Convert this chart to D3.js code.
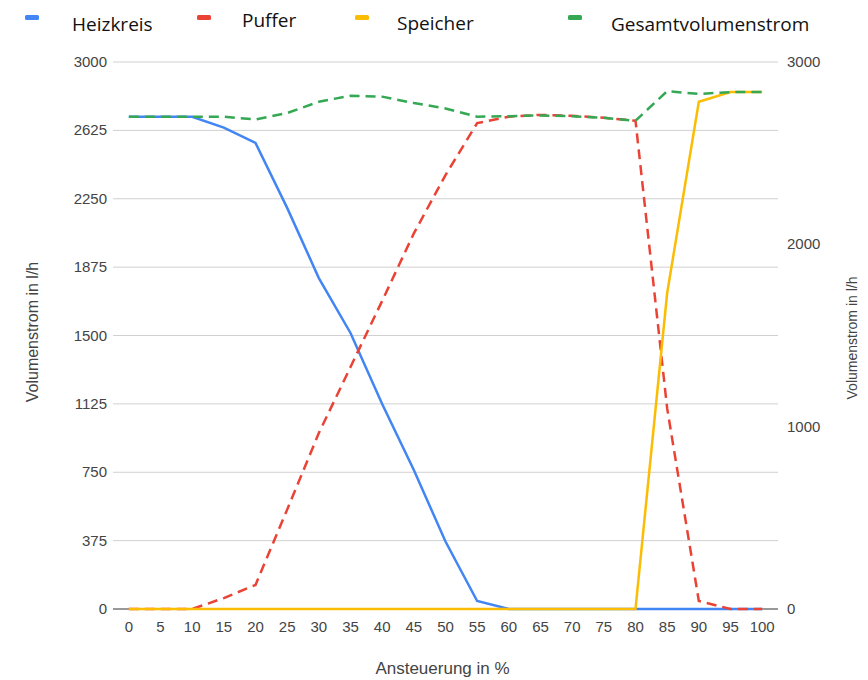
<!DOCTYPE html>
<html>
<head>
<meta charset="utf-8">
<script src="https://cdn.jsdelivr.net/npm/d3@7"></script>
<style>
  body { margin: 0; background: #fff; }
</style>
</head>
<body>
<div id="chart"></div>
<script>
const categories = ['0', '5', '10', '15', '20', '25', '30', '35', '40', '45', '50',
                    '55', '60', '65', '70', '75', '80', '85', '90', '95', '100'];
const heizkreis = [2700, 2700, 2700, 2640, 2556, 2200, 1815, 1514, 1124, 762, 370,
                   44, 0, 0, 0, 0, 0, 0, 0, 0, 0];
const puffer = [0, 0, 0, 60, 132, 545, 965, 1327, 1690, 2060, 2380,
                2665, 2700, 2710, 2705, 2694, 2678, 1100, 44, 0, 0];
const speicher = [0, 0, 0, 0, 0, 0, 0, 0, 0, 0, 0,
                  0, 0, 0, 0, 0, 0, 1733, 2782, 2835, 2835];
const gesamt = [2700, 2700, 2700, 2700, 2685, 2720, 2782, 2815, 2810, 2775, 2745,
                2700, 2703, 2707, 2703, 2694, 2678, 2840, 2825, 2835, 2835];
const leftTicks = [0, 375, 750, 1125, 1500, 1875, 2250, 2625, 3000];
const rightTicks = [0, 1000, 2000, 3000];
const seriesNames = ['Heizkreis', 'Puffer', 'Speicher', 'Gesamtvolumenstrom'];

let width = 868,
    height = 680,
    plotLeft = 113,
    plotRight = 778,
    plotTop = 62,
    plotBottom = 609;

const colors = ['#4285F4', '#EA4335', '#FBBC04', '#34A853'];
const dashes = [null, '10,6', null, '10,6'];
const allSeries = [heizkreis, puffer, speicher, gesamt];

const svg = d3.select('#chart')
    .append('svg')
        .attr('width', width)
        .attr('height', height)
        .attr('font-family', "'Liberation Sans', Arial, sans-serif");

let x = d3.scalePoint()
    .domain(categories)
    .range([plotLeft, plotRight])
    .padding(0.5);

let y = d3.scaleLinear()
    .domain([0, 3000])
    .range([plotBottom, plotTop]);

// gridlines
svg.append('g')
    .selectAll('line').data(leftTicks)
    .enter().append('line')
        .attr('x1', plotLeft)
        .attr('x2', plotRight)
        .attr('y1', d => y(d))
        .attr('y2', d => y(d))
        .style('stroke', d => d === 0 ? '#333' : '#d0d0d0')
        .style('stroke-width', 1);

// left axis labels
svg.append('g')
    .selectAll('text').data(leftTicks)
    .enter().append('text')
        .attr('x', plotLeft - 6)
        .attr('y', d => y(d) + 5)
        .attr('text-anchor', 'end')
        .attr('font-size', 15)
        .style('fill', '#444')
        .text(d => d);

// right axis labels
svg.append('g')
    .selectAll('text').data(rightTicks)
    .enter().append('text')
        .attr('x', plotRight + 9)
        .attr('y', d => y(d) + 5)
        .attr('font-size', 15)
        .style('fill', '#444')
        .text(d => d);

// bottom labels
svg.append('g')
    .selectAll('text').data(categories)
    .enter().append('text')
        .attr('x', d => x(d))
        .attr('y', plotBottom + 23)
        .attr('text-anchor', 'middle')
        .attr('font-size', 15)
        .style('fill', '#444')
        .text(d => d);

// axis titles
svg.append('text')
    .attr('x', (plotLeft + plotRight) / 2 - 3)
    .attr('y', 674)
    .attr('text-anchor', 'middle')
    .attr('font-size', 17)
    .style('fill', '#444')
    .text('Ansteuerung in %');

svg.append('text')
    .attr('transform', 'translate(38,332) rotate(-90)')
    .attr('text-anchor', 'middle')
    .attr('font-size', 16)
    .style('fill', '#444')
    .text('Volumenstrom in l/h');

svg.append('text')
    .attr('transform', 'translate(857,338) rotate(-90)')
    .attr('text-anchor', 'middle')
    .attr('font-size', 14)
    .style('fill', '#444')
    .text('Volumenstrom in l/h');

// lines
let line = d3.line()
    .x((d, i) => x(categories[i]))
    .y(d => y(d));

svg.append('g')
    .selectAll('path').data(allSeries)
    .enter().append('path')
        .attr('d', d => line(d))
        .style('fill', 'none')
        .style('stroke', (d, i) => colors[i])
        .style('stroke-width', 2.5)
        .style('stroke-dasharray', (d, i) => dashes[i]);

// legend
const legendX = [25, 197, 355, 568];
const legendTextX = [72, 242, 397, 611];
const legendTextY = [31, 27, 30, 31];
const legend = svg.append('g')
    .selectAll('g').data(seriesNames)
    .enter().append('g');
legend.append('rect')
    .attr('x', (d, i) => legendX[i])
    .attr('y', 15)
    .attr('width', 14)
    .attr('height', 5)
    .attr('rx', 1.5)
    .style('fill', (d, i) => colors[i]);
legend.append('text')
    .attr('x', (d, i) => legendTextX[i])
    .attr('y', (d, i) => legendTextY[i])
    .attr('font-family', "'Open Sans', sans-serif")
    .attr('font-size', 19)
    .style('fill', '#111')
    .text(d => d);
</script>
</body>
</html>
